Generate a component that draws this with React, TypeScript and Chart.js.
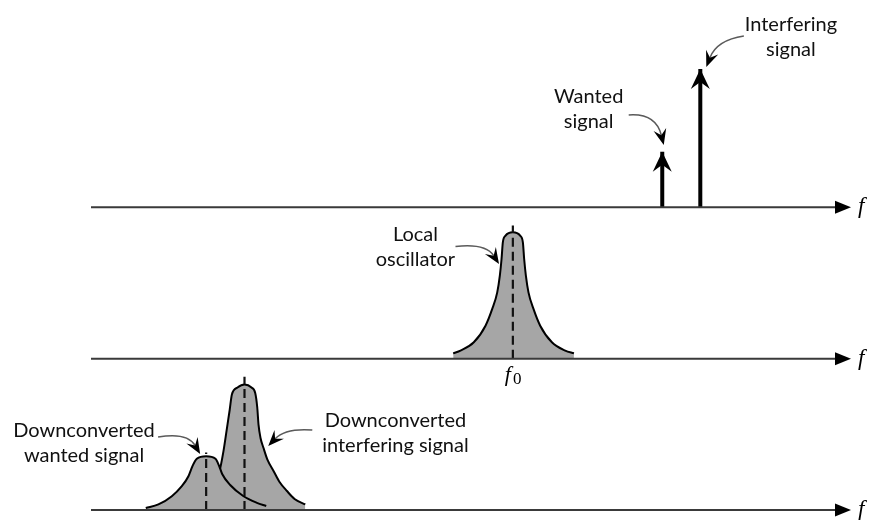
import React, { useEffect, useRef } from 'react';
import { Chart, registerables } from 'chart.js';

Chart.register(...registerables);

// ---------- data (frequency in arbitrary units along each axis, amplitude in arbitrary units) ----------
const FREQ_MAX = 151.8;
const AMP_MAX = 150;

// Panel 1: received tones
const rfToneNames = ['Wanted signal', 'Interfering signal'];
const rfToneFreq = [114.1, 121.7];
const rfToneAmp = [55.1, 137.1];

// Panel 2: local oscillator spectrum
const loFreq = [72.34, 73.8, 76.46, 78.8, 80.14, 81.14, 81.66, 82.0, 82.26, 82.8, 84.26, 85.72, 86.26, 86.52, 86.86, 87.38, 88.38, 89.72, 92.06, 94.72, 96.46];
const loAmp = [5.3, 8, 16.2, 32.7, 49.3, 65.7, 82.3, 98.8, 115.3, 121.9, 125.2, 121.9, 115.3, 98.8, 82.3, 65.7, 49.3, 32.7, 16.2, 8, 5.3];

// Panel 3: downconverted spectra
const dcWantedFreq = [10.94, 13.46, 16.14, 18.14, 19.46, 20.26, 21.14, 23.0, 24.86, 25.6, 26.2, 27.8, 30.4, 33.14, 35.0];
const dcWantedAmp = [2, 5.5, 13.7, 23.6, 33.5, 43.4, 50.7, 53.3, 50.7, 43.6, 35.7, 24.8, 13.9, 7.1, 4];
const dcIntFreq = [18.52, 21.8, 24.2, 25.66, 26.46, 27.26, 27.7, 28.14, 29.26, 30.66, 32.06, 32.8, 33.2, 33.46, 33.86, 34.46, 35.26, 36.46, 37.66, 39.14, 40.66, 42.8];
const dcIntAmp = [5.5, 13.9, 24.8, 38.5, 58.3, 84.7, 99.1, 114.5, 121.4, 124.4, 121.4, 116, 102.1, 84.7, 71.4, 61.4, 49.6, 38.7, 27.8, 18.8, 10.9, 5.5];

// Centre (dashed) markers: panel axis, frequency, top of dashed line
const markerAxis = ['yLO', 'yIF', 'yIF'];
const markerFreq = [84.26, 23.0, 30.66];
const markerTop = [132, 57, 132];

// Axis end labels
const axisIds = ['yRF', 'yLO', 'yIF'];
const axisLabel = 'f';
const loTickFreq = 84.26;
const loTickLabel = ['f', '0'];

// Callout annotations (text + curved arrow), in data units of their panel
const notes = [
  { axis: 'yRF', lines: ['Interfering', 'signal'], tx: 139.8, ty: 175.0, s: [130.4, 169.8], c: [125.0, 165.8], t: [122.9, 139.1] },
  { axis: 'yRF', lines: ['Wanted', 'signal'], tx: 99.4, ty: 103.0, s: [107.4, 91.5], c: [112.8, 93.5], t: [114.4, 61.8] },
  { axis: 'yLO', lines: ['Local', 'oscillator'], tx: 64.8, ty: 116.6, s: [72.8, 111.2], c: [78.8, 114.6], t: [81.5, 93.8] },
  { axis: 'yIF', lines: ['Downconverted', 'wanted signal'], tx: -1.4, ty: 72.3, s: [13.4, 72.3], c: [19.2, 77.3], t: [21.8, 55.5] },
  { axis: 'yIF', lines: ['Downconverted', 'interfering signal'], tx: 60.8, ty: 82.3, s: [44.2, 79.3], c: [38.8, 81.3], t: [35.4, 63.4] },
];

const GRAY = 'rgb(166,166,166)';
const TEXT_FONT = '20px Lato';

function stealth(ctx: CanvasRenderingContext2D, tx: number, ty: number, dx: number, dy: number, len: number, half: number, notch: number) {
  const n = Math.hypot(dx, dy) || 1;
  const ux = dx / n, uy = dy / n;
  const px = -uy, py = ux;
  ctx.beginPath();
  ctx.moveTo(tx, ty);
  ctx.lineTo(tx - ux * len + px * half, ty - uy * len + py * half);
  ctx.lineTo(tx - ux * notch, ty - uy * notch);
  ctx.lineTo(tx - ux * len - px * half, ty - uy * len - py * half);
  ctx.closePath();
  ctx.fill();
}

const diagramPlugin = {
  id: 'diagram',
  afterDatasetsDraw(chart: any) {
    const ctx: CanvasRenderingContext2D = chart.ctx;
    const area = chart.chartArea;
    const xs = chart.scales.x;
    ctx.save();

    // frequency axes with arrow heads
    axisIds.forEach((id) => {
      const y = chart.scales[id].getPixelForValue(0);
      ctx.strokeStyle = '#3a3a3a';
      ctx.lineWidth = 2;
      ctx.beginPath();
      ctx.moveTo(area.left, y);
      ctx.lineTo(area.right - 8, y);
      ctx.stroke();
      ctx.fillStyle = '#000';
      ctx.beginPath();
      ctx.moveTo(area.right, y);
      ctx.lineTo(area.right - 16, y - 6.5);
      ctx.lineTo(area.right - 16, y + 6.5);
      ctx.closePath();
      ctx.fill();
      ctx.font = 'italic 23px "Liberation Serif"';
      ctx.textAlign = 'left';
      ctx.textBaseline = 'alphabetic';
      ctx.fillText(axisLabel, area.right + 7, y + 6);
    });

    // f0 tick label
    {
      const x = xs.getPixelForValue(loTickFreq);
      const y = chart.scales.yLO.getPixelForValue(0);
      ctx.fillStyle = '#000';
      ctx.textAlign = 'left';
      ctx.font = 'italic 22px "Liberation Serif"';
      ctx.fillText(loTickLabel[0], x - 8, y + 22);
      const w = ctx.measureText(loTickLabel[0]).width;
      ctx.font = '17px "Liberation Serif"';
      ctx.fillText(loTickLabel[1], x - 8 + w + 2, y + 25);
    }

    // arrow heads on the tones
    rfToneFreq.forEach((_, i) => {
      const meta = chart.getDatasetMeta(i);
      const tip = meta.data[1];
      ctx.fillStyle = '#000';
      stealth(ctx, tip.x, tip.y, 0, -1, 20, 9.5, 13);
    });

    // callouts
    notes.forEach((n) => {
      const ys = chart.scales[n.axis];
      const sx = xs.getPixelForValue(n.s[0]), sy = ys.getPixelForValue(n.s[1]);
      const cx = xs.getPixelForValue(n.c[0]), cy = ys.getPixelForValue(n.c[1]);
      const tx = xs.getPixelForValue(n.t[0]), ty = ys.getPixelForValue(n.t[1]);
      const dx = tx - cx, dy = ty - cy;
      const d = Math.hypot(dx, dy) || 1;
      ctx.strokeStyle = '#5a5a5a';
      ctx.lineWidth = 1.5;
      ctx.beginPath();
      ctx.moveTo(sx, sy);
      ctx.quadraticCurveTo(cx, cy, tx - (dx / d) * 10, ty - (dy / d) * 10);
      ctx.stroke();
      ctx.fillStyle = '#000';
      stealth(ctx, tx, ty, dx, dy, 16, 6.5, 10);

      const lx = xs.getPixelForValue(n.tx), ly = ys.getPixelForValue(n.ty);
      ctx.font = TEXT_FONT;
      ctx.textAlign = 'center';
      ctx.fillStyle = '#111';
      n.lines.forEach((line, k) => ctx.fillText(line, lx, ly + k * 25));
    });

    ctx.restore();
  },
};

const pts = (xs: number[], ys: number[]) => xs.map((x, i) => ({ x, y: ys[i] }));

export default function App() {
  const ref = useRef<HTMLCanvasElement>(null);
  useEffect(() => {
    const datasets: any[] = [];
    // tones (index 0,1)
    rfToneFreq.forEach((f, i) => {
      datasets.push({
        label: rfToneNames[i],
        data: [{ x: f, y: 0 }, { x: f, y: rfToneAmp[i] }],
        yAxisID: 'yRF',
        borderColor: '#000',
        borderWidth: 4,
        pointRadius: 0,
        borderCapStyle: 'butt',
        order: 0,
        clip: false,
      });
    });
    // dashed centre markers
    markerFreq.forEach((f, i) => {
      datasets.push({
        label: 'centre ' + i,
        data: [{ x: f, y: 0 }, { x: f, y: markerTop[i] }],
        yAxisID: markerAxis[i],
        borderColor: '#111',
        borderWidth: 2.2,
        borderDash: [9, 5],
        pointRadius: 0,
        order: 0,
        clip: false,
      });
    });
    datasets.push({
      label: 'Local oscillator',
      data: pts(loFreq, loAmp),
      yAxisID: 'yLO',
      borderColor: '#000',
      borderWidth: 2,
      backgroundColor: GRAY,
      fill: 'origin',
      pointRadius: 0,
      cubicInterpolationMode: 'monotone',
      order: 1,
      clip: false,
    });
    datasets.push({
      label: 'Downconverted wanted signal',
      data: pts(dcWantedFreq, dcWantedAmp),
      yAxisID: 'yIF',
      borderColor: '#000',
      borderWidth: 2,
      backgroundColor: GRAY,
      fill: 'origin',
      pointRadius: 0,
      cubicInterpolationMode: 'monotone',
      order: 1,
      clip: false,
    });
    datasets.push({
      label: 'Downconverted interfering signal',
      data: pts(dcIntFreq, dcIntAmp),
      yAxisID: 'yIF',
      borderColor: '#000',
      borderWidth: 2,
      backgroundColor: GRAY,
      fill: 'origin',
      pointRadius: 0,
      cubicInterpolationMode: 'monotone',
      order: 2,
      clip: false,
    });

    const yAxis = { type: 'linear', position: 'right', stack: 'panels', stackWeight: 1, min: 0, max: AMP_MAX, display: false };
    const chart = new Chart(ref.current as HTMLCanvasElement, {
      type: 'line',
      data: { datasets },
      options: {
        animation: false,
        responsive: false,
        devicePixelRatio: 1,
        parsing: true,
        layout: { padding: { left: 91, right: 19, top: 56, bottom: 10 } },
        plugins: { legend: { display: false }, tooltip: { enabled: false } },
        scales: {
          x: { type: 'linear', min: 0, max: FREQ_MAX, display: false },
          yRF: { ...yAxis },
          yLO: { ...yAxis },
          yIF: { ...yAxis },
        },
      } as any,
      plugins: [diagramPlugin],
    } as any);
    return () => chart.destroy();
  }, []);
  return (
    <div style={{ position: 'absolute', left: 0, top: 0, width: 870, height: 520, background: '#fff' }}>
      <canvas ref={ref} width={870} height={520} style={{ display: 'block' }} />
    </div>
  );
}
